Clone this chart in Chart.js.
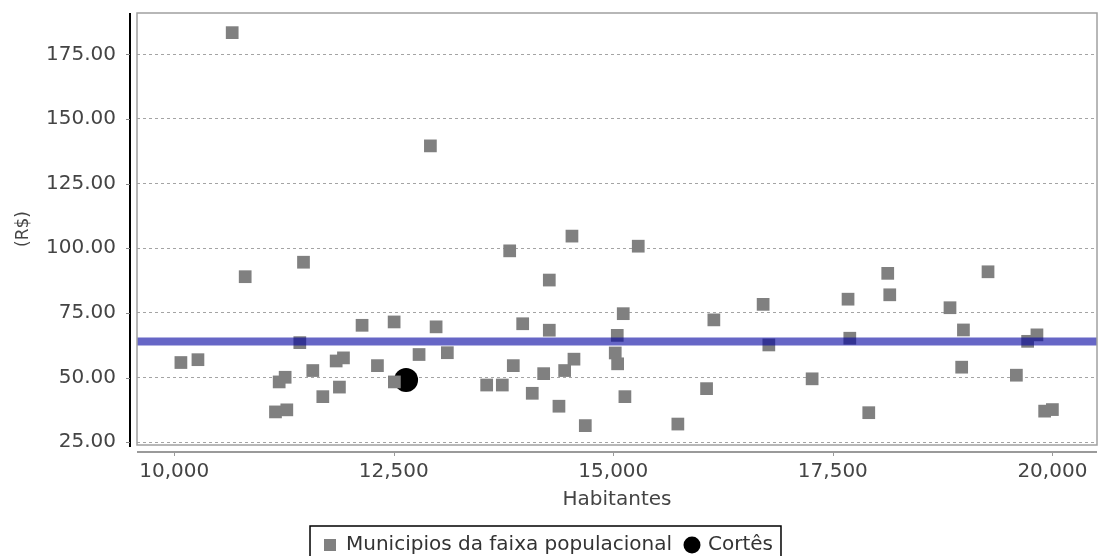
<!DOCTYPE html>
<html>
<head>
<meta charset="utf-8">
<script src="https://cdn.jsdelivr.net/npm/chart.js@4/dist/chart.umd.min.js"></script>
<style>
  html, body { margin: 0; padding: 0; background: #fff; overflow: hidden; }
  #wrap { width: 1100px; height: 570px; }
</style>
</head>
<body>
<div id="wrap"><canvas id="scatterChart"></canvas></div>
<script>
// Population (habitantes) and value (R$) for each municipality in the range
const muniPop = [
    10660, 10076, 10270, 10808, 11472, 11430, 12139, 12314, 11844, 11927,
    11578, 11195, 11263, 11881, 11692, 11153, 11282, 12504, 12982, 12788,
    13110, 12507, 13820, 14529, 15284, 14271, 15113, 13968, 14271, 16145,
    15045, 15022, 15049, 14552, 13861, 14207, 14446, 13558, 13736, 14077,
    15132, 14381, 14681, 15735, 16062, 12917, 16706, 16771, 17264, 17673,
    17693, 17909, 18125, 18148, 18834, 18987, 18967, 19267, 19590, 19718,
    19824, 19912, 20000
];
const muniValue = [
    183.4, 55.8, 56.9, 89.0, 94.6, 63.5, 70.2, 54.6, 56.4, 57.6,
    52.7, 48.3, 50.1, 46.3, 42.6, 36.7, 37.5, 71.5, 69.6, 58.9,
    59.6, 48.3, 99.0, 104.7, 100.8, 87.7, 74.7, 70.8, 68.3, 72.3,
    66.3, 59.5, 55.3, 57.1, 54.6, 51.5, 52.7, 47.1, 47.1, 43.9,
    42.6, 38.9, 31.4, 32.0, 45.7, 139.6, 78.3, 62.6, 49.5, 80.3,
    65.2, 36.4, 90.3, 82.0, 77.0, 68.4, 54.0, 90.9, 50.9, 64.0,
    66.5, 37.0, 37.6
];
const cortesPop = [12640];
const cortesValue = [49.0];
const meanValue = 63.9;

const xRange = [9576, 20508];
const yRange = [23.9, 191.0];
const xTicks = [10000, 12500, 15000, 17500, 20000];
const yTicks = [25, 50, 75, 100, 125, 150, 175];

Chart.defaults.font.family = "'DejaVu Sans', sans-serif";
Chart.defaults.color = '#444';

// plot frame, offset axis lines and the box round the legend
const decorations = {
    id: 'decorations',
    afterDraw(chart) {
        const { ctx, chartArea: a, scales } = chart;
        const line = (x1, y1, x2, y2) => {
            ctx.beginPath();
            ctx.moveTo(x1, y1);
            ctx.lineTo(x2, y2);
            ctx.stroke();
        };
        ctx.save();
        ctx.strokeStyle = '#a0a0a0';
        ctx.lineWidth = 1.5;
        ctx.strokeRect(a.left, a.top, a.right - a.left, a.bottom - a.top);

        // y axis
        ctx.strokeStyle = '#000';
        ctx.lineWidth = 2;
        line(a.left - 7, a.top, a.left - 7, a.bottom + 2);
        ctx.strokeStyle = '#888';
        ctx.lineWidth = 1;
        scales.y.ticks.forEach(t => {
            const py = Math.round(scales.y.getPixelForValue(t.value)) + 0.5;
            line(a.left - 11, py, a.left - 7, py);
        });

        // x axis
        ctx.strokeStyle = '#9a9a9a';
        ctx.lineWidth = 2;
        line(a.left, a.bottom + 7, a.right, a.bottom + 7);
        ctx.lineWidth = 1;
        scales.x.ticks.forEach(t => {
            const px = Math.round(scales.x.getPixelForValue(t.value)) + 0.5;
            line(px, a.bottom + 8, px, a.bottom + 11);
        });

        // legend border
        const boxes = chart.legend.legendHitBoxes;
        if (boxes.length) {
            const first = boxes[0];
            const last = boxes[boxes.length - 1];
            ctx.strokeStyle = '#000';
            ctx.lineWidth = 1.5;
            const l = first.left - 14;
            const r = last.left + last.width + 8;
            const t = first.top - 9;
            ctx.strokeRect(l, t, r - l, first.height + 18);
        }
        ctx.restore();
    }
};

const ctx = document.getElementById('scatterChart').getContext('2d');
new Chart(ctx, {
    type: 'scatter',
    data: {
        datasets: [{
            label: 'Municipios da faixa populacional',
            data: muniPop.map((p, i) => ({ x: p, y: muniValue[i] })),
            pointStyle: 'rect',
            pointRadius: 9,
            pointHoverRadius: 9,
            backgroundColor: '#808080',
            borderColor: '#808080',
            borderWidth: 0,
            order: 1
        }, {
            label: 'Cortês',
            data: cortesPop.map((p, i) => ({ x: p, y: cortesValue[i] })),
            pointStyle: 'circle',
            pointRadius: 12,
            pointHoverRadius: 12,
            backgroundColor: '#000',
            borderColor: '#000',
            borderWidth: 0,
            order: 2
        }, {
            type: 'line',
            label: 'media',
            data: [{ x: xRange[0], y: meanValue }, { x: xRange[1], y: meanValue }],
            borderColor: 'rgba(0, 0, 160, 0.6)',
            borderWidth: 8,
            pointRadius: 0,
            fill: false,
            order: 0
        }]
    },
    options: {
        responsive: true,
        maintainAspectRatio: false,
        animation: false,
        events: [],
        layout: {
            autoPadding: false,
            padding: { top: 13, right: 3, left: 0, bottom: 5 }
        },
        plugins: {
            tooltip: { enabled: false },
            legend: {
                position: 'bottom',
                labels: {
                    usePointStyle: true,
                    boxWidth: 12,
                    boxHeight: 12,
                    padding: 14,
                    color: '#333',
                    font: { size: 20 },
                    filter: item => item.text !== 'media'
                }
            }
        },
        scales: {
            x: {
                type: 'linear',
                min: xRange[0],
                max: xRange[1],
                afterBuildTicks: scale => { scale.ticks = xTicks.map(v => ({ value: v })); },
                afterFit: scale => {
                    scale.height = 76;
                    scale.paddingLeft = 0;
                    scale.paddingRight = 0;
                },
                ticks: {
                    padding: 15,
                    font: { size: 20 },
                    color: '#444',
                    callback: v => v.toLocaleString('en-US')
                },
                grid: { display: false, drawTicks: false },
                border: { display: false },
                title: {
                    display: true,
                    text: 'Habitantes',
                    font: { size: 20 },
                    color: '#444',
                    padding: { top: 0, bottom: 9 }
                }
            },
            y: {
                type: 'linear',
                min: yRange[0],
                max: yRange[1],
                afterBuildTicks: scale => { scale.ticks = yTicks.map(v => ({ value: v })); },
                afterFit: scale => {
                    scale.width = 137;
                    scale.paddingTop = 0;
                    scale.paddingBottom = 0;
                },
                ticks: {
                    padding: 21,
                    font: { size: 20 },
                    color: '#444',
                    callback: v => v.toFixed(2)
                },
                grid: {
                    color: '#a4a4a4',
                    lineWidth: 1,
                    drawTicks: false
                },
                border: { display: false, dash: [3, 3] },
                title: {
                    display: true,
                    text: '(R$)',
                    font: { size: 17 },
                    color: '#444',
                    padding: { top: 13, bottom: 0 }
                }
            }
        }
    },
    plugins: [decorations]
});
</script>
</body>
</html>
